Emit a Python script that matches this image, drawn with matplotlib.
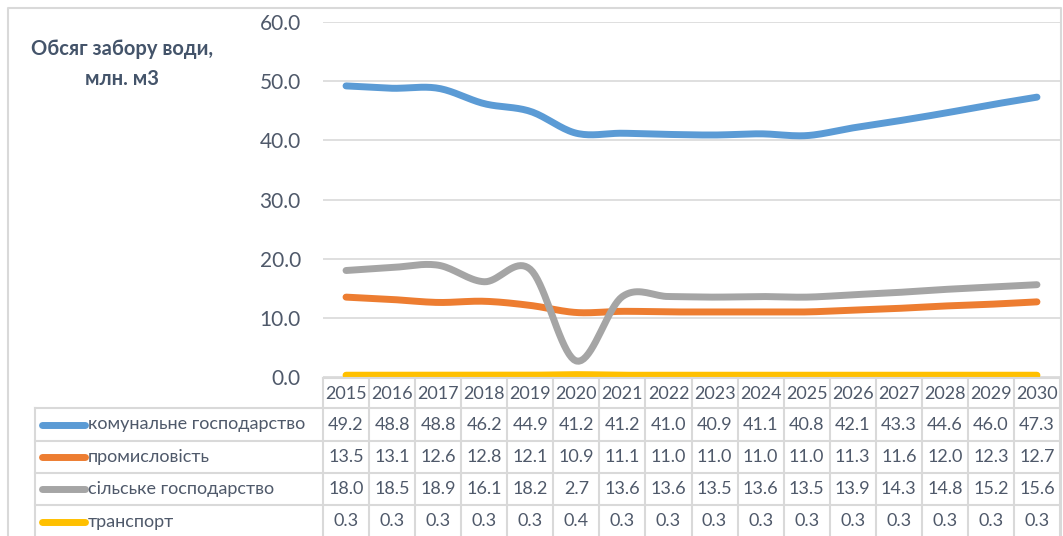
import numpy as np
import matplotlib
matplotlib.use("Agg")
import matplotlib.pyplot as plt

years = [2015, 2016, 2017, 2018, 2019, 2020, 2021, 2022,
         2023, 2024, 2025, 2026, 2027, 2028, 2029, 2030]
komunalne = [49.2, 48.8, 48.8, 46.2, 44.9, 41.2, 41.2, 41.0,
             40.9, 41.1, 40.8, 42.1, 43.3, 44.6, 46.0, 47.3]
promyslovist = [13.5, 13.1, 12.6, 12.8, 12.1, 10.9, 11.1, 11.0,
                11.0, 11.0, 11.0, 11.3, 11.6, 12.0, 12.3, 12.7]
silske = [18.0, 18.5, 18.9, 16.1, 18.2, 2.7, 13.6, 13.6,
          13.5, 13.6, 13.5, 13.9, 14.3, 14.8, 15.2, 15.6]
transport = [0.3, 0.3, 0.3, 0.3, 0.3, 0.4, 0.3, 0.3,
             0.3, 0.3, 0.3, 0.3, 0.3, 0.3, 0.3, 0.3]

names = ["комунальне господарство", "промисловість",
         "сільське господарство", "транспорт"]
series = [komunalne, promyslovist, silske, transport]
colors = ["#5B9BD5", "#ED7D31", "#A5A5A5", "#FFC000"]
yticks = [0, 10, 20, 30, 40, 50, 60]

TXT = "#4f596a"
GRID = "#D9D9D9"
plt.rcParams['font.family'] = ['Lato', 'DejaVu Sans']


def smooth(y, n=20):
    # excel-like smoothed line (catmull-rom bezier)
    y = np.asarray(y, float)
    x = np.arange(len(y), dtype=float)
    px = np.concatenate([[x[0]], x, [x[-1]]])
    py = np.concatenate([[y[0]], y, [y[-1]]])
    xs, ys = [], []
    t = np.linspace(0, 1, n)
    for i in range(len(y) - 1):
        p0 = np.array([px[i], py[i]])
        p1 = np.array([px[i + 1], py[i + 1]])
        p2 = np.array([px[i + 2], py[i + 2]])
        p3 = np.array([px[i + 3], py[i + 3]])
        c1 = p1 + (p2 - p0) / 6
        c2 = p2 - (p3 - p1) / 6
        b = (np.outer((1 - t) ** 3, p1) + np.outer(3 * (1 - t) ** 2 * t, c1)
             + np.outer(3 * (1 - t) * t ** 2, c2) + np.outer(t ** 3, p2))
        xs.append(b[:, 0])
        ys.append(b[:, 1])
    return np.concatenate(xs), np.concatenate(ys)


W, H = 1063, 536
fig = plt.figure(figsize=(W / 100, H / 100), dpi=100)

x_left, x_right = 323, 1060
y_zero, y_top = 377, 22
ax = fig.add_axes([x_left / W, 1 - y_zero / H, (x_right - x_left) / W, (y_zero - y_top) / H])
ax.set_xlim(-0.5, len(years) - 0.5)
ax.set_ylim(0, 60)
ax.set_yticks(yticks)
ax.set_yticklabels([f"{v:.1f}" for v in yticks], fontsize=15, color=TXT)
ax.tick_params(axis='y', length=0, pad=16)
ax.set_xticks([])
for s in ax.spines.values():
    s.set_visible(False)
ax.grid(axis='y', color=GRID, lw=1.2)
ax.set_axisbelow(True)

for vals, c in zip(series, colors):
    sx, sy = smooth(vals)
    ax.plot(sx, sy, color=c, lw=5, solid_capstyle='round', clip_on=False, zorder=3)

# overlay in pixel coords for the data table and frame
tab = fig.add_axes([0, 0, 1, 1])
tab.set_xlim(0, W)
tab.set_ylim(H, 0)
tab.axis('off')
tab.patch.set_alpha(0)

# chart frame
tab.plot([8, 8, 1061, 1061], [H + 5, 8, 8, H + 5], color=GRID, lw=1.5)

ncol = len(years)
cw = (x_right - x_left) / ncol
rows = [378, 408, 441, 473, 505, 538]
lab_left = 35

tab.plot([x_left, x_right], [rows[0], rows[0]], color=GRID, lw=1.5)
for r in rows[1:-1]:
    tab.plot([lab_left, x_right], [r, r], color=GRID, lw=1.5)
for i in range(ncol + 1):
    xc = x_left + i * cw
    tab.plot([xc, xc], [rows[0], H + 5], color=GRID, lw=1.5)
tab.plot([lab_left, lab_left], [rows[1], H + 5], color=GRID, lw=1.5)

for i, yr in enumerate(years):
    tab.text(x_left + (i + 0.5) * cw, (rows[0] + rows[1]) / 2 + 1, str(yr),
             ha='center', va='center', fontsize=13, color=TXT)

for j, (nm, vals, c) in enumerate(zip(names, series, colors)):
    yc = (rows[j + 1] + rows[j + 2]) / 2
    tab.plot([42, 85], [yc, yc], color=c, lw=5, solid_capstyle='round')
    tab.text(88, yc, nm, ha='left', va='center', fontsize=13, color=TXT)
    for i, v in enumerate(vals):
        tab.text(x_left + (i + 0.5) * cw, yc, f"{v:.1f}",
                 ha='center', va='center', fontsize=13, color=TXT)

fig.text(122 / W, 1 - 64 / H, "Обсяг забору води,\nмлн. м3", ha='center', va='center',
         fontsize=14.5, fontweight='bold', color="#44546A", linespacing=1.6)

fig.savefig("out.png", dpi=100)
